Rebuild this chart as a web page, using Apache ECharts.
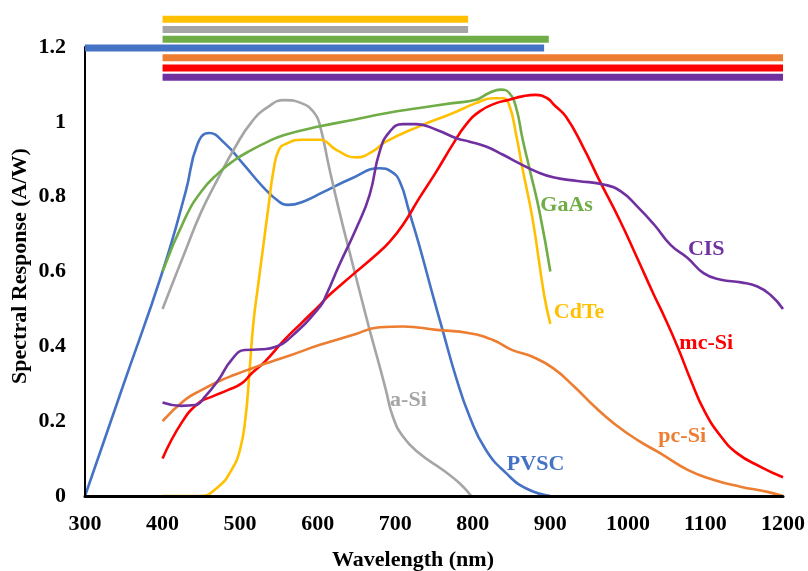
<!DOCTYPE html>
<html><head><meta charset="utf-8">
<script src="https://cdn.jsdelivr.net/npm/echarts@6/dist/echarts.min.js"></script>
<style>html,body{margin:0;padding:0;background:#fff}#c{width:808px;height:571px}</style>
</head><body><div id="c"></div>
<script>
// ---- data ----
const seriesNames = ['PVSC','a-Si','GaAs','CdTe','mc-Si','pc-Si','CIS'];
const seriesColors = ['#4472C4','#A5A5A5','#70AD47','#FFC000','#FF0000','#ED7D31','#7030A0'];

const pvscWl = [300,350,400,430,445,460,480,505,530,550,562,585,605,645,680,695,706,718,731,748,761,778,796,817,843,869,900];
const pvscSR = [0,0.3,0.6,0.815,0.94,0.97,0.943,0.885,0.825,0.787,0.778,0.79,0.81,0.85,0.876,0.867,0.84,0.76,0.67,0.54,0.444,0.32,0.212,0.123,0.061,0.02,0];

const asiWl = [400,410,429,450,472,493,515,536,557,579,596,603,615,628,641,655,667,680,688,697,710,731,761,783,798];
const asiSR = [0.5,0.553,0.653,0.76,0.85,0.93,1.0,1.04,1.058,1.05,1.023,0.99,0.876,0.76,0.653,0.54,0.444,0.346,0.283,0.212,0.159,0.114,0.07,0.034,0];

const gaasWl = [400,429,450,472,493,515,536,557,603,645,688,731,774,804,821,836,847,856,864,873,886,900];
const gaasSR = [0.6,0.742,0.814,0.863,0.898,0.925,0.947,0.965,0.988,1.005,1.023,1.037,1.05,1.059,1.077,1.086,1.077,1.037,0.956,0.876,0.76,0.6];

const cdteWl = [400,448,472,489,500,507,512,517,523,530,537,543,550,560,580,603,624,650,671,688,731,774,804,826,839,847,856,864,877,892,900];
const cdteSR = [0,0,0.025,0.07,0.125,0.21,0.33,0.46,0.56,0.67,0.78,0.87,0.925,0.942,0.952,0.952,0.925,0.905,0.921,0.947,0.988,1.023,1.05,1.063,1.063,1.045,0.965,0.876,0.742,0.537,0.46];

const mcsiWl = [400,424,446,463,484,502,515,532,557,579,603,615,645,675,693,710,731,753,774,791,809,830,847,864,881,896,905,920,942,963,990,1012,1033,1047,1064,1081,1098,1120,1141,1171,1200];
const mcsiSR = [0.1,0.194,0.248,0.265,0.283,0.301,0.328,0.359,0.417,0.462,0.511,0.537,0.591,0.644,0.68,0.725,0.796,0.867,0.939,0.992,1.028,1.05,1.059,1.068,1.072,1.063,1.045,1.014,0.934,0.845,0.735,0.636,0.54,0.479,0.399,0.31,0.23,0.159,0.114,0.078,0.05];

const pcsiWl = [400,429,450,472,493,515,540,566,603,645,680,710,753,796,826,851,877,904,931,957,982,1012,1042,1077,1111,1145,1180,1200];
const pcsiSR = [0.2,0.257,0.283,0.306,0.324,0.341,0.359,0.377,0.404,0.43,0.451,0.453,0.444,0.435,0.417,0.39,0.372,0.341,0.292,0.239,0.194,0.15,0.114,0.07,0.043,0.025,0.011,0];

const cisWl = [400,424,442,455,472,489,506,528,545,566,603,611,628,650,667,680,693,710,727,753,779,796,817,839,860,882,905,935,970,991,1012,1034,1055,1077,1098,1120,1146,1167,1184,1200];
const cisSR = [0.25,0.241,0.243,0.266,0.31,0.364,0.39,0.392,0.398,0.426,0.506,0.537,0.618,0.716,0.805,0.921,0.974,0.994,0.994,0.979,0.956,0.947,0.934,0.912,0.889,0.867,0.851,0.842,0.832,0.814,0.774,0.725,0.671,0.636,0.595,0.578,0.571,0.56,0.537,0.5];

// wavelength range bars (order matches top-to-bottom in the picture)
const rangeNames = ['CdTe','a-Si','GaAs','PVSC','pc-Si','mc-Si','CIS'];
const rangeStart = [400,400,400,300,400,400,400];
const rangeEnd   = [794,794,898,892,1200,1200,1200];
const rangeLevel = [1.274,1.247,1.221,1.197,1.171,1.144,1.119];

// curve labels
const labelText = ['GaAs','CIS','CdTe','mc-Si','pc-Si','PVSC','a-Si'];
const labelWl   = [921,1101,937,1101,1070,881,717];
const labelSR   = [0.778,0.658,0.492,0.409,0.16,0.086,0.257];

const xTicks = [300,400,500,600,700,800,900,1000,1100,1200];
const yTicks = [0,0.2,0.4,0.6,0.8,1,1.2];

const curveWl = [pvscWl,asiWl,gaasWl,cdteWl,mcsiWl,pcsiWl,cisWl];
const curveSR = [pvscSR,asiSR,gaasSR,cdteSR,mcsiSR,pcsiSR,cisSR];

const zip = (a,b)=>a.map((v,i)=>[v,b[i]]);
const colorOf = n => seriesColors[seriesNames.indexOf(n)];
const FONT = '"Liberation Serif", "Times New Roman", serif';
const FS = 22;

const chart = echarts.init(document.getElementById('c'), null, {renderer:'canvas'});

const series = [];
curveWl.forEach((wl,i)=>{
  series.push({
    name: seriesNames[i], type:'line', data: zip(wl, curveSR[i]),
    smooth: 0.5, showSymbol:false, symbol:'none', clip:false,
    lineStyle:{color:seriesColors[i], width:2.6}, z:3
  });
});
rangeNames.forEach((n,i)=>{
  series.push({
    name: n+' range', type:'line', data:[[rangeStart[i],rangeLevel[i]],[rangeEnd[i],rangeLevel[i]]],
    showSymbol:false, symbol:'none', clip:false,
    lineStyle:{color:colorOf(n), width:7, cap:'butt'}, z:5
  });
});

chart.setOption({
  animation:false,
  backgroundColor:'#fff',
  grid:{left:85, right:24, top:47, bottom:75, containLabel:false},
  xAxis:{type:'value', min:300, max:1200, interval:100, z:4,
    axisLine:{show:true, onZero:false, lineStyle:{color:'#000', width:3}},
    axisTick:{show:false}, splitLine:{show:false},
    axisLabel:{color:'#000', fontFamily:FONT, fontWeight:'bold', fontSize:FS, margin:17,
      formatter: v => xTicks.indexOf(v) >= 0 ? String(v) : ''}
  },
  yAxis:{type:'value', min:0, max:1.2, interval:0.2, z:4,
    axisLine:{show:true, onZero:false, lineStyle:{color:'#000', width:2}},
    axisTick:{show:false}, splitLine:{show:false},
    axisLabel:{color:'#000', fontFamily:FONT, fontWeight:'bold', fontSize:FS, margin:19,
      formatter: v => { const t = yTicks.find(y => Math.abs(y - v) < 1e-9); return t === undefined ? '' : String(t); }}
  },
  series: series
});

const g = [];
labelText.forEach((t,i)=>{
  const p = chart.convertToPixel({gridIndex:0},[labelWl[i],labelSR[i]]);
  g.push({type:'text', x:p[0], y:p[1], z:10, style:{text:t, fill:colorOf(t), font:'bold '+FS+'px '+FONT, align:'center', verticalAlign:'middle'}});
});
g.push({type:'text', x:413, y:560, style:{text:'Wavelength (nm)', fill:'#000', font:'bold '+FS+'px '+FONT, align:'center', verticalAlign:'middle'}});
g.push({type:'text', x:20, y:266, rotation:Math.PI/2, style:{text:'Spectral Response (A/W)', fill:'#000', font:'bold '+FS+'px '+FONT, align:'center', verticalAlign:'middle'}});
chart.setOption({graphic:g});
</script></body></html>
